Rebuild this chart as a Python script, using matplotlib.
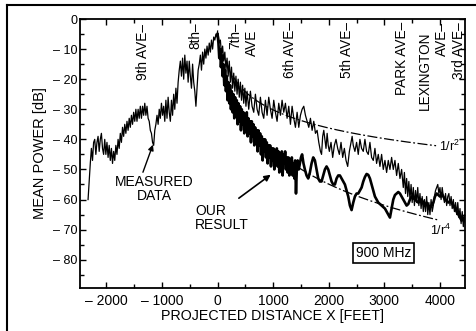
import matplotlib
matplotlib.use("Agg")
import matplotlib.pyplot as plt
import numpy as np
from matplotlib.lines import Line2D
from matplotlib.ticker import MultipleLocator

plt.rcParams['font.family'] = ['Liberation Sans', 'DejaVu Sans']
plt.rcParams['mathtext.default'] = 'regular'

# ---- Measured data (thin line) ----
meas_left_x = [-2330, -2310, -2290, -2270, -2250, -2230, -2210, -2190, -2170, -2150,
               -2130, -2110, -2090, -2070, -2050, -2030, -2010, -1990, -1970, -1950,
               -1930, -1910, -1890, -1870, -1850, -1830, -1810, -1790, -1770, -1750,
               -1730, -1710, -1690, -1670, -1650, -1630, -1610, -1590, -1570, -1550,
               -1530, -1510, -1490, -1470, -1450, -1430, -1410, -1390, -1370, -1350,
               -1330, -1310, -1290, -1270, -1250, -1230, -1210, -1190, -1170, -1150,
               -1130, -1110, -1090, -1070, -1050, -1030, -1010, -990, -970, -950,
               -930, -910, -890, -870, -850, -830, -810, -790, -770, -750,
               -730, -710, -690, -670, -650, -630, -610, -590, -570, -550,
               -530, -510, -490, -470, -450, -430, -410, -390, -370, -350,
               -330, -310, -290, -270, -250, -230, -210, -190, -170, -150,
               -130, -110, -90, -70, -50, -30, -10, 0]
meas_left_y = [-60, -54, -48, -43, -47, -41, -40, -45, -41, -39,
               -44, -40, -38, -43, -45, -40, -45, -41, -46, -42,
               -47, -43, -48, -44, -47, -42, -45, -40, -43, -38,
               -41, -36, -39, -35, -38, -34, -37, -33, -36, -32,
               -35, -31, -34, -30, -34, -30, -33, -29, -33, -29,
               -32, -28, -32, -29, -33, -34, -37, -38, -41, -42,
               -37, -35, -32, -35, -30, -33, -28, -32, -29, -34,
               -27, -33, -26, -31, -34, -27, -32, -25, -30, -23,
               -28, -21, -17, -14, -19, -13, -20, -12, -18, -14,
               -21, -14, -19, -23, -15, -21, -24, -29, -23, -17,
               -15, -12, -17, -11, -15, -10, -13, -9, -12, -8,
               -11, -7, -10, -6, -7, -5, -6, -4]

meas_right_x = [10, 30, 50, 70, 90, 110, 130, 150, 170, 190,
                210, 230, 250, 270, 290, 310, 330, 350, 370, 390,
                410, 430, 450, 470, 490, 510, 530, 560, 590, 620,
                650, 680, 710, 740, 770, 800, 830, 860, 890, 920,
                950, 980, 1010, 1040, 1070, 1100, 1130, 1160, 1190, 1220,
                1250, 1280, 1310, 1340, 1370, 1400, 1430, 1460, 1490, 1520,
                1550, 1580, 1610, 1640, 1670, 1700, 1730, 1760, 1790, 1820,
                1850, 1870, 1890, 1910, 1930, 1950, 1970, 1990, 2010, 2040,
                2070, 2100, 2130, 2160, 2190, 2220, 2250, 2280, 2310, 2340,
                2370, 2400, 2420, 2440, 2470, 2500, 2530, 2560, 2590, 2620,
                2650, 2680, 2710, 2740, 2770, 2800, 2830, 2860, 2890, 2920,
                2950, 2980, 3010, 3040, 3070, 3100, 3130, 3160, 3190, 3220,
                3250, 3280, 3310, 3340, 3360, 3380, 3400, 3420, 3440, 3460,
                3480, 3500, 3520, 3540, 3560, 3580, 3600, 3620, 3640, 3660,
                3680, 3700, 3720, 3740, 3760, 3780, 3800, 3820, 3840, 3860,
                3880, 3900, 3920, 3940, 3960, 3980, 4000, 4020, 4040, 4060,
                4080, 4100, 4120, 4140, 4160, 4180, 4200, 4220, 4240, 4260,
                4280, 4300, 4320, 4340, 4360, 4380, 4400, 4420, 4440, 4460, 4480]
meas_right_y = [-5, -8, -7, -12, -9, -14, -11, -17, -13, -19,
                -14, -21, -16, -23, -18, -24, -19, -25, -20, -26,
                -21, -27, -22, -28, -23, -29, -24, -30, -24, -29,
                -31, -25, -30, -32, -26, -31, -33, -27, -32, -26,
                -30, -33, -27, -31, -34, -28, -32, -27, -31, -28,
                -33, -29, -35, -29, -33, -36, -31, -36, -32, -30,
                -29, -32, -34, -36, -33, -37, -34, -38, -37, -41,
                -44, -45, -39, -37, -40, -43, -38, -42, -44, -41,
                -46, -42, -40, -43, -45, -41, -46, -43, -47, -49,
                -44, -41, -39, -42, -44, -41, -45, -40, -43, -44,
                -40, -44, -45, -41, -46, -47, -43, -48, -45, -49,
                -45, -50, -47, -51, -47, -50, -46, -50, -47, -52,
                -48, -53, -50, -56, -51, -58, -53, -59, -54, -60,
                -55, -61, -56, -62, -57, -61, -56, -62, -58, -63,
                -59, -64, -60, -64, -59, -65, -61, -65, -60, -64,
                -62, -59, -57, -56, -55, -58, -56, -60, -56, -59,
                -61, -58, -62, -59, -58, -62, -59, -63, -60, -64,
                -61, -65, -61, -66, -63, -68, -64, -69, -65, -68, -66]

# ---- Our result (thick line) ----
ours_x = [0, 15, 30, 45, 60, 75, 90, 105, 120, 135, 150, 165, 180, 195, 210, 225,
          240, 255, 270, 285, 300, 315, 330, 345, 360, 375, 390, 405, 420, 435,
          450, 465, 480, 495, 510, 525, 540, 555, 570, 585, 600, 615, 630, 645,
          660, 675, 690, 705, 720, 735, 750, 765, 780, 795, 810, 825, 840, 855,
          870, 885, 900, 915, 930, 945, 960, 975, 990, 1005, 1020, 1035, 1050,
          1065, 1080, 1095, 1110, 1125, 1140, 1155, 1170, 1185, 1200, 1215, 1230,
          1245, 1260, 1275, 1290, 1305, 1320, 1335, 1350, 1365, 1380, 1395, 1410,
          1425, 1440, 1460, 1480, 1500, 1520, 1545, 1570, 1600, 1630, 1660, 1690,
          1720, 1750, 1780, 1810, 1840, 1870, 1900, 1930, 1960, 1990, 2020, 2050,
          2080, 2110, 2140, 2170, 2200, 2230, 2260, 2290, 2320, 2350, 2380, 2410,
          2440, 2470, 2500, 2530, 2560, 2590, 2620, 2650, 2680, 2710, 2740, 2770,
          2800, 2830, 2860, 2890, 2920, 2950, 2980, 3010, 3040, 3070, 3100, 3130,
          3160, 3190, 3220, 3250, 3280, 3310, 3340, 3370, 3400, 3430, 3460, 3490,
          3520, 3550, 3580, 3610, 3640, 3670, 3700, 3730, 3760, 3790, 3820, 3850,
          3880, 3910, 3940, 3970, 4000, 4030, 4060, 4090, 4120, 4150, 4180, 4210,
          4240, 4270, 4300, 4330, 4360, 4390, 4420, 4450, 4480]
ours_y = [-5, -8, -13, -10, -16, -12, -19, -15, -22, -17, -24, -19, -27, -21, -28, -22,
          -30, -24, -31, -25, -33, -26, -32, -27, -35, -28, -34, -29, -37, -30,
          -35, -31, -38, -32, -37, -31, -39, -33, -38, -34, -41, -34, -39, -35,
          -42, -36, -40, -37, -44, -37, -42, -38, -45, -39, -47, -40, -44, -40,
          -46, -41, -48, -42, -46, -42, -49, -43, -47, -43, -50, -44, -48,
          -43, -49, -44, -51, -45, -49, -44, -52, -45, -48, -44, -50,
          -46, -51, -46, -52, -47, -50, -46, -52, -48, -53, -47, -58,
          -50, -47, -50, -48, -46, -45, -48, -50, -52, -53, -51, -48,
          -46, -47, -50, -53, -54, -54, -52, -50, -49, -50, -52, -54,
          -55, -55, -53, -52, -52, -53, -54, -55, -57, -59, -62, -63.5,
          -61, -59, -58, -58, -57, -56, -54, -52.5, -51.5, -51.8, -53, -55,
          -57, -59, -60, -61, -61.5, -62, -62.5, -63, -64, -65, -66, -63,
          -60, -58.5, -58, -57.5, -58, -59, -60, -61, -62, -61.5, -60, -59,
          -59.5, -60, -60.5, -61, -60.5, -60, -61, -62, -61, -62, -62.5, -62,
          -61, -59, -58, -58.5, -59, -58, -59, -60, -60.5, -61, -60.5, -61,
          -62, -63, -64, -65, -66, -67, -66, -67, -68]

# ---- reference power laws ----
r2_x_range = [150, 3930]
r2_at_1300 = -32.5
r4_x_range = [1200, 3950]
r4_at_1900 = -54.0

# ---- street labels ----
street_labels = ["9th AVE–", "8th–", "7th–", "AVE", "6th AVE–", "5th AVE–",
                 "PARK AVE–", "LEXINGTON", "AVE–", "3rd AVE–"]
street_x = [-1343, -405, 325, 625, 1300, 2324, 3315, 3720, 4030, 4342]
street_top = [-1.5, -1.0, -1.0, -3.5, -1.0, -1.0, -1.0, -4.0, -1.0, -1.0]

xticks = [-2000, -1000, 0, 1000, 2000, 3000, 4000]
xtick_labels = ["– 2000", "– 1000", "0", "1000", "2000", "3000", "4000"]
yticks = [0, -10, -20, -30, -40, -50, -60, -70, -80]
ytick_labels = ["0", "– 10", "– 20", "– 30", "– 40", "– 50", "– 60", "– 70", "– 80"]

W, H = 477, 331
fig = plt.figure(figsize=(W / 100, H / 100), dpi=100)
ax = fig.add_axes([80 / W, 1 - 288 / H, (465 - 80) / W, (288 - 19) / H])

ax.plot(meas_left_x, meas_left_y, color='black', lw=0.9)
ax.plot(meas_right_x, meas_right_y, color='black', lw=0.9)
ax.plot(ours_x, ours_y, color='black', lw=1.9)

xr2 = np.linspace(r2_x_range[0], r2_x_range[1], 200)
ax.plot(xr2, r2_at_1300 - 20 * np.log10(xr2 / 1300), color='black', lw=0.9,
        dashes=(8, 2, 1.5, 2))
xr4 = np.linspace(r4_x_range[0], r4_x_range[1], 200)
ax.plot(xr4, r4_at_1900 - 40 * np.log10(xr4 / 1900), color='black', lw=0.9,
        dashes=(8, 2, 1.5, 2))

ax.set_xlim(-2475, 4450)
ax.set_ylim(-89.4, 0)

ax.set_xticks(xticks)
ax.set_xticklabels(xtick_labels, fontsize=10)
ax.set_yticks(yticks)
ax.set_yticklabels(ytick_labels, fontsize=9)
ax.xaxis.set_minor_locator(MultipleLocator(500))
ax.yaxis.set_minor_locator(MultipleLocator(5))
ax.tick_params(which='both', direction='in', top=True, right=True, width=1)
ax.tick_params(which='major', length=4)
ax.tick_params(which='minor', length=3)
ax.tick_params(axis='x', pad=4)
ax.tick_params(axis='y', pad=2)
for s in ax.spines.values():
    s.set_linewidth(1.3)

ax.set_xlabel("PROJECTED DISTANCE X [FEET]", fontsize=10.3, labelpad=1)
ax.set_ylabel("MEAN POWER [dB]", fontsize=10.5, labelpad=4)

for lab, x, t in zip(street_labels, street_x, street_top):
    ax.text(x, t, lab, rotation=90, ha='center', va='top', fontsize=9.8)

ax.text(-1146, -56.5, "MEASURED\nDATA", ha='center', va='center', fontsize=10,
        linespacing=1.0)
ax.text(-408, -66.1, "OUR\nRESULT", ha='left', va='center', fontsize=10,
        linespacing=1.0)
ax.annotate("", xy=(-1146, -40.9), xytext=(-1360, -51.8),
            arrowprops=dict(arrowstyle='-|>', color='black', lw=1,
                            mutation_scale=8))
ax.annotate("", xy=(995, -51.2), xytext=(342, -60.1),
            arrowprops=dict(arrowstyle='-|>', color='black', lw=1.2,
                            mutation_scale=9))

ax.text(2991, -77.7, "900 MHz", ha='center', va='center', fontsize=10,
        bbox=dict(boxstyle='square,pad=0.2', fc='white', ec='black', lw=1.2))
ax.text(3984, -42.3, r"1/r$^2$", ha='left', va='center', fontsize=9)
ax.text(3822, -70.1, r"1/r$^4$", ha='left', va='center', fontsize=9)

# outer frame lines
fig.add_artist(Line2D([7 / W, 7 / W], [0, 1 - 5 / H], transform=fig.transFigure,
                      color='black', lw=1.5))
fig.add_artist(Line2D([7 / W, 1], [1 - 5 / H, 1 - 5 / H], transform=fig.transFigure,
                      color='black', lw=1.5))

fig.savefig("out.png", dpi=100)
